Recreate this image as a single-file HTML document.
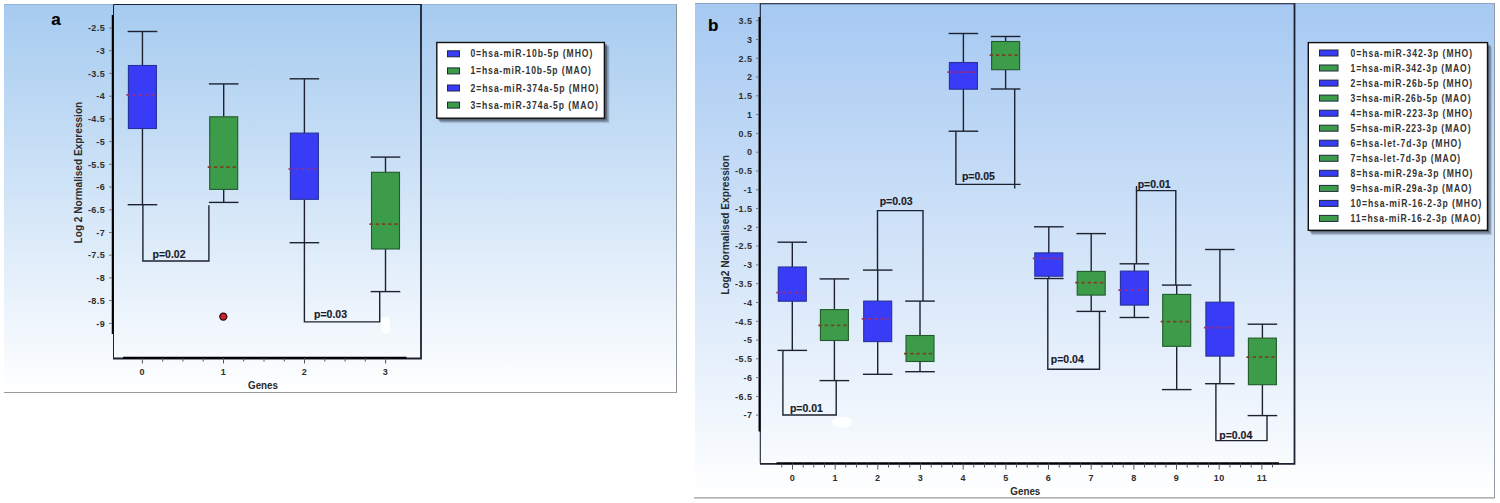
<!DOCTYPE html>
<html><head><meta charset="utf-8"><title>Box plots</title>
<style>
html,body{margin:0;padding:0;background:#fff;width:1500px;height:503px;overflow:hidden}
svg{display:block}
text{font-family:"Liberation Sans", sans-serif;fill:#1a1a1a}
.w{stroke:#1e2230;stroke-width:1.4;fill:none}
.tl{font-size:9px;font-weight:bold;fill:#2e2e2e;letter-spacing:0.45px}
.at{font-size:11px;font-weight:bold;fill:#2a2a2a}
.pl{font-size:17px;font-weight:bold;fill:#000;stroke:#000;stroke-width:0.2px}
.pv{font-size:10.5px;font-weight:bold;fill:#1a1a2a;stroke:#1a1a2a;stroke-width:0.15px}
.lg{font-size:10px;font-weight:bold;fill:#333}
</style></head><body>
<svg width="1500" height="503" viewBox="0 0 1500 503">
<defs>
<linearGradient id="gA" x1="0" y1="0" x2="0" y2="1"><stop offset="0" stop-color="#a6cbf0"/><stop offset="1" stop-color="#ffffff"/></linearGradient>
<linearGradient id="gB" x1="0" y1="0" x2="0" y2="1"><stop offset="0" stop-color="#a6c9f2"/><stop offset="1" stop-color="#ffffff"/></linearGradient>
</defs>
<rect x="4" y="4" width="673" height="389" fill="url(#gA)"/>
<line x1="4" y1="4.5" x2="677" y2="4.5" stroke="#96b2d6" stroke-width="1"/>
<line x1="4" y1="392.5" x2="677" y2="392.5" stroke="#9a9a9c" stroke-width="1"/>
<line x1="676.5" y1="4" x2="676.5" y2="393" stroke="#8e939a" stroke-width="1"/>
<path d="M113.5,358 V4.5 H421" fill="none" stroke="#1c2232" stroke-width="1"/>
<path d="M421,4 V358.5 H113" fill="none" stroke="#1c2232" stroke-width="1.8"/>
<line x1="112.7" y1="15" x2="112.7" y2="334" stroke="#000" stroke-width="1.9"/>
<line x1="123" y1="357.8" x2="406.5" y2="357.8" stroke="#000" stroke-width="2"/>
<line x1="109" y1="28.0" x2="112" y2="28.0" stroke="#777" stroke-width="1"/>
<text x="105.2" y="31.2" class="tl" text-anchor="end">-2.5</text>
<line x1="109" y1="50.7" x2="112" y2="50.7" stroke="#777" stroke-width="1"/>
<text x="105.2" y="53.9" class="tl" text-anchor="end">-3</text>
<line x1="109" y1="73.4" x2="112" y2="73.4" stroke="#777" stroke-width="1"/>
<text x="105.2" y="76.6" class="tl" text-anchor="end">-3.5</text>
<line x1="109" y1="96.2" x2="112" y2="96.2" stroke="#777" stroke-width="1"/>
<text x="105.2" y="99.4" class="tl" text-anchor="end">-4</text>
<line x1="109" y1="118.9" x2="112" y2="118.9" stroke="#777" stroke-width="1"/>
<text x="105.2" y="122.1" class="tl" text-anchor="end">-4.5</text>
<line x1="109" y1="141.6" x2="112" y2="141.6" stroke="#777" stroke-width="1"/>
<text x="105.2" y="144.8" class="tl" text-anchor="end">-5</text>
<line x1="109" y1="164.3" x2="112" y2="164.3" stroke="#777" stroke-width="1"/>
<text x="105.2" y="167.5" class="tl" text-anchor="end">-5.5</text>
<line x1="109" y1="187.0" x2="112" y2="187.0" stroke="#777" stroke-width="1"/>
<text x="105.2" y="190.2" class="tl" text-anchor="end">-6</text>
<line x1="109" y1="209.8" x2="112" y2="209.8" stroke="#777" stroke-width="1"/>
<text x="105.2" y="213.0" class="tl" text-anchor="end">-6.5</text>
<line x1="109" y1="232.5" x2="112" y2="232.5" stroke="#777" stroke-width="1"/>
<text x="105.2" y="235.7" class="tl" text-anchor="end">-7</text>
<line x1="109" y1="255.2" x2="112" y2="255.2" stroke="#777" stroke-width="1"/>
<text x="105.2" y="258.4" class="tl" text-anchor="end">-7.5</text>
<line x1="109" y1="277.9" x2="112" y2="277.9" stroke="#777" stroke-width="1"/>
<text x="105.2" y="281.1" class="tl" text-anchor="end">-8</text>
<line x1="109" y1="300.6" x2="112" y2="300.6" stroke="#777" stroke-width="1"/>
<text x="105.2" y="303.8" class="tl" text-anchor="end">-8.5</text>
<line x1="109" y1="323.4" x2="112" y2="323.4" stroke="#777" stroke-width="1"/>
<text x="105.2" y="326.6" class="tl" text-anchor="end">-9</text>
<line x1="142.4" y1="358" x2="142.4" y2="363.5" stroke="#555" stroke-width="1"/>
<line x1="162.7" y1="358" x2="162.7" y2="361.5" stroke="#555" stroke-width="1"/>
<line x1="182.9" y1="358" x2="182.9" y2="361.5" stroke="#555" stroke-width="1"/>
<line x1="203.2" y1="358" x2="203.2" y2="361.5" stroke="#555" stroke-width="1"/>
<line x1="223.5" y1="358" x2="223.5" y2="363.5" stroke="#555" stroke-width="1"/>
<line x1="243.7" y1="358" x2="243.7" y2="361.5" stroke="#555" stroke-width="1"/>
<line x1="264.0" y1="358" x2="264.0" y2="361.5" stroke="#555" stroke-width="1"/>
<line x1="284.3" y1="358" x2="284.3" y2="361.5" stroke="#555" stroke-width="1"/>
<line x1="304.5" y1="358" x2="304.5" y2="363.5" stroke="#555" stroke-width="1"/>
<line x1="324.8" y1="358" x2="324.8" y2="361.5" stroke="#555" stroke-width="1"/>
<line x1="345.1" y1="358" x2="345.1" y2="361.5" stroke="#555" stroke-width="1"/>
<line x1="365.3" y1="358" x2="365.3" y2="361.5" stroke="#555" stroke-width="1"/>
<line x1="385.6" y1="358" x2="385.6" y2="363.5" stroke="#555" stroke-width="1"/>
<text x="142.3" y="375" class="tl" text-anchor="middle">0</text>
<text x="223.5" y="375" class="tl" text-anchor="middle">1</text>
<text x="304.5" y="375" class="tl" text-anchor="middle">2</text>
<text x="385.5" y="375" class="tl" text-anchor="middle">3</text>
<text x="248" y="389.2" class="at" textLength="30" lengthAdjust="spacingAndGlyphs">Genes</text>
<text transform="translate(81.8,243.4) rotate(-90)" class="at" textLength="141.6" lengthAdjust="spacingAndGlyphs">Log 2 Normalised Expression</text>
<text x="51.3" y="25.1" class="pl">a</text>
<line x1="142.45" y1="31.5" x2="142.45" y2="65.5" class="w"/>
<line x1="142.45" y1="128.5" x2="142.45" y2="204.7" class="w"/>
<line x1="127.64999999999999" y1="31.5" x2="157.25" y2="31.5" class="w"/>
<line x1="127.64999999999999" y1="204.7" x2="157.25" y2="204.7" class="w"/>
<rect x="128.4" y="65.5" width="28.0" height="63.0" fill="#383cf6" stroke="#26309a" stroke-width="1.1"/>
<line x1="126.4" y1="94.9" x2="155.4" y2="94.9" stroke="#9a2c80" stroke-width="1.7" stroke-dasharray="3.4 2.8"/>
<line x1="223.7" y1="83.9" x2="223.7" y2="116.8" class="w"/>
<line x1="223.7" y1="189.4" x2="223.7" y2="202.4" class="w"/>
<line x1="208.89999999999998" y1="83.9" x2="238.5" y2="83.9" class="w"/>
<line x1="208.89999999999998" y1="202.4" x2="238.5" y2="202.4" class="w"/>
<rect x="209.7" y="116.8" width="28.0" height="72.6" fill="#3d9c4a" stroke="#235a2c" stroke-width="1.1"/>
<line x1="207.7" y1="167.1" x2="236.7" y2="167.1" stroke="#7a4220" stroke-width="1.7" stroke-dasharray="3.4 2.8"/>
<line x1="304.4" y1="78.8" x2="304.4" y2="133.1" class="w"/>
<line x1="304.4" y1="199.3" x2="304.4" y2="242.7" class="w"/>
<line x1="289.59999999999997" y1="78.8" x2="319.2" y2="78.8" class="w"/>
<line x1="289.59999999999997" y1="242.7" x2="319.2" y2="242.7" class="w"/>
<rect x="290.4" y="133.1" width="28.0" height="66.2" fill="#383cf6" stroke="#26309a" stroke-width="1.1"/>
<line x1="288.4" y1="169.0" x2="317.4" y2="169.0" stroke="#9a2c80" stroke-width="1.7" stroke-dasharray="3.4 2.8"/>
<line x1="385.5" y1="157.1" x2="385.5" y2="172.3" class="w"/>
<line x1="385.5" y1="249" x2="385.5" y2="291.6" class="w"/>
<line x1="370.7" y1="157.1" x2="400.3" y2="157.1" class="w"/>
<line x1="370.7" y1="291.6" x2="400.3" y2="291.6" class="w"/>
<rect x="371.5" y="172.3" width="28.0" height="76.7" fill="#3d9c4a" stroke="#235a2c" stroke-width="1.1"/>
<line x1="369.5" y1="224.1" x2="398.5" y2="224.1" stroke="#7a4220" stroke-width="1.7" stroke-dasharray="3.4 2.8"/>
<circle cx="223.3" cy="316.6" r="3.5" fill="#cc2230" stroke="#2a0508" stroke-width="1.3"/>
<polyline points="142.9,204.7 142.9,261 208.9,261 208.9,205.2" class="w" fill="none"/>
<text x="152.5" y="257.8" class="pv">p=0.02</text>
<polyline points="304.4,242.7 304.4,321.9 379.7,321.9 379.7,291.7" class="w" fill="none"/>
<text x="314" y="317.8" class="pv">p=0.03</text>
<rect x="381" y="317" width="9" height="16" rx="3.5" fill="#ffffff" opacity="0.92"/>
<rect x="438.3" y="44.3" width="168.6" height="76.2" fill="#2e3646" opacity="0.5"/>
<rect x="439.5" y="45.5" width="169" height="76.6" fill="#2e3646" opacity="0.3"/>
<rect x="440.5" y="46.5" width="169" height="76.6" fill="#2e3646" opacity="0.15"/>
<rect x="436.8" y="42.5" width="167.6" height="75.7" fill="#fff" stroke="#111" stroke-width="1.4"/>
<rect x="447.5" y="50.8" width="12" height="6" fill="#383cf6" stroke="#1d2a40" stroke-width="1"/>
<text x="546.98" y="57.4" class="lg" transform="scale(0.86,1)" textLength="141.74" lengthAdjust="spacing">0=hsa-miR-10b-5p (MHO)</text>
<rect x="447.5" y="67.9" width="12" height="6" fill="#3d9c4a" stroke="#1d2a40" stroke-width="1"/>
<text x="546.98" y="74.5" class="lg" transform="scale(0.86,1)" textLength="140.12" lengthAdjust="spacing">1=hsa-miR-10b-5p (MAO)</text>
<rect x="447.5" y="85.0" width="12" height="6" fill="#383cf6" stroke="#1d2a40" stroke-width="1"/>
<text x="546.98" y="91.6" class="lg" transform="scale(0.86,1)" textLength="148.84" lengthAdjust="spacing">2=hsa-miR-374a-5p (MHO)</text>
<rect x="447.5" y="102.1" width="12" height="6" fill="#3d9c4a" stroke="#1d2a40" stroke-width="1"/>
<text x="546.98" y="108.7" class="lg" transform="scale(0.86,1)" textLength="148.14" lengthAdjust="spacing">3=hsa-miR-374a-5p (MAO)</text>
<rect x="695" y="3" width="800" height="495" fill="url(#gB)"/>
<line x1="695" y1="3.5" x2="1495" y2="3.5" stroke="#90a6c4" stroke-width="1"/>
<line x1="694" y1="497.8" x2="1495" y2="497.8" stroke="#9a9a9c" stroke-width="1.2"/>
<line x1="1494.5" y1="3" x2="1494.5" y2="498" stroke="#8e98a6" stroke-width="1"/>
<path d="M760.3,463.5 V3.8 H1294.5" fill="none" stroke="#1c2232" stroke-width="1.1"/>
<path d="M1294.5,3.3 V463.8 H760" fill="none" stroke="#1c2232" stroke-width="1.8"/>
<line x1="759.5" y1="17" x2="759.5" y2="431.5" stroke="#000" stroke-width="1.9"/>
<line x1="776.5" y1="463.3" x2="1279" y2="463.3" stroke="#000" stroke-width="2"/>
<line x1="756" y1="20.7" x2="758.5" y2="20.7" stroke="#777" stroke-width="1"/>
<text x="752.4" y="23.9" class="tl" text-anchor="end">3.5</text>
<line x1="756" y1="39.5" x2="758.5" y2="39.5" stroke="#777" stroke-width="1"/>
<text x="752.4" y="42.7" class="tl" text-anchor="end">3</text>
<line x1="756" y1="58.3" x2="758.5" y2="58.3" stroke="#777" stroke-width="1"/>
<text x="752.4" y="61.5" class="tl" text-anchor="end">2.5</text>
<line x1="756" y1="77.1" x2="758.5" y2="77.1" stroke="#777" stroke-width="1"/>
<text x="752.4" y="80.3" class="tl" text-anchor="end">2</text>
<line x1="756" y1="95.8" x2="758.5" y2="95.8" stroke="#777" stroke-width="1"/>
<text x="752.4" y="99.0" class="tl" text-anchor="end">1.5</text>
<line x1="756" y1="114.6" x2="758.5" y2="114.6" stroke="#777" stroke-width="1"/>
<text x="752.4" y="117.8" class="tl" text-anchor="end">1</text>
<line x1="756" y1="133.4" x2="758.5" y2="133.4" stroke="#777" stroke-width="1"/>
<text x="752.4" y="136.6" class="tl" text-anchor="end">0.5</text>
<line x1="756" y1="152.2" x2="758.5" y2="152.2" stroke="#777" stroke-width="1"/>
<text x="752.4" y="155.4" class="tl" text-anchor="end">0</text>
<line x1="756" y1="171.0" x2="758.5" y2="171.0" stroke="#777" stroke-width="1"/>
<text x="752.4" y="174.2" class="tl" text-anchor="end">-0.5</text>
<line x1="756" y1="189.8" x2="758.5" y2="189.8" stroke="#777" stroke-width="1"/>
<text x="752.4" y="193.0" class="tl" text-anchor="end">-1</text>
<line x1="756" y1="208.6" x2="758.5" y2="208.6" stroke="#777" stroke-width="1"/>
<text x="752.4" y="211.8" class="tl" text-anchor="end">-1.5</text>
<line x1="756" y1="227.3" x2="758.5" y2="227.3" stroke="#777" stroke-width="1"/>
<text x="752.4" y="230.5" class="tl" text-anchor="end">-2</text>
<line x1="756" y1="246.1" x2="758.5" y2="246.1" stroke="#777" stroke-width="1"/>
<text x="752.4" y="249.3" class="tl" text-anchor="end">-2.5</text>
<line x1="756" y1="264.9" x2="758.5" y2="264.9" stroke="#777" stroke-width="1"/>
<text x="752.4" y="268.1" class="tl" text-anchor="end">-3</text>
<line x1="756" y1="283.7" x2="758.5" y2="283.7" stroke="#777" stroke-width="1"/>
<text x="752.4" y="286.9" class="tl" text-anchor="end">-3.5</text>
<line x1="756" y1="302.5" x2="758.5" y2="302.5" stroke="#777" stroke-width="1"/>
<text x="752.4" y="305.7" class="tl" text-anchor="end">-4</text>
<line x1="756" y1="321.3" x2="758.5" y2="321.3" stroke="#777" stroke-width="1"/>
<text x="752.4" y="324.5" class="tl" text-anchor="end">-4.5</text>
<line x1="756" y1="340.1" x2="758.5" y2="340.1" stroke="#777" stroke-width="1"/>
<text x="752.4" y="343.3" class="tl" text-anchor="end">-5</text>
<line x1="756" y1="358.8" x2="758.5" y2="358.8" stroke="#777" stroke-width="1"/>
<text x="752.4" y="362.0" class="tl" text-anchor="end">-5.5</text>
<line x1="756" y1="377.6" x2="758.5" y2="377.6" stroke="#777" stroke-width="1"/>
<text x="752.4" y="380.8" class="tl" text-anchor="end">-6</text>
<line x1="756" y1="396.4" x2="758.5" y2="396.4" stroke="#777" stroke-width="1"/>
<text x="752.4" y="399.6" class="tl" text-anchor="end">-6.5</text>
<line x1="756" y1="415.2" x2="758.5" y2="415.2" stroke="#777" stroke-width="1"/>
<text x="752.4" y="418.4" class="tl" text-anchor="end">-7</text>
<line x1="781.8" y1="463.5" x2="781.8" y2="467.5" stroke="#555" stroke-width="1"/>
<line x1="792.5" y1="463.5" x2="792.5" y2="469.5" stroke="#555" stroke-width="1"/>
<line x1="803.2" y1="463.5" x2="803.2" y2="467.5" stroke="#555" stroke-width="1"/>
<line x1="813.8" y1="463.5" x2="813.8" y2="467.5" stroke="#555" stroke-width="1"/>
<line x1="824.5" y1="463.5" x2="824.5" y2="467.5" stroke="#555" stroke-width="1"/>
<line x1="835.2" y1="463.5" x2="835.2" y2="469.5" stroke="#555" stroke-width="1"/>
<line x1="845.8" y1="463.5" x2="845.8" y2="467.5" stroke="#555" stroke-width="1"/>
<line x1="856.5" y1="463.5" x2="856.5" y2="467.5" stroke="#555" stroke-width="1"/>
<line x1="867.2" y1="463.5" x2="867.2" y2="467.5" stroke="#555" stroke-width="1"/>
<line x1="877.8" y1="463.5" x2="877.8" y2="469.5" stroke="#555" stroke-width="1"/>
<line x1="888.5" y1="463.5" x2="888.5" y2="467.5" stroke="#555" stroke-width="1"/>
<line x1="899.2" y1="463.5" x2="899.2" y2="467.5" stroke="#555" stroke-width="1"/>
<line x1="909.8" y1="463.5" x2="909.8" y2="467.5" stroke="#555" stroke-width="1"/>
<line x1="920.5" y1="463.5" x2="920.5" y2="469.5" stroke="#555" stroke-width="1"/>
<line x1="931.2" y1="463.5" x2="931.2" y2="467.5" stroke="#555" stroke-width="1"/>
<line x1="941.8" y1="463.5" x2="941.8" y2="467.5" stroke="#555" stroke-width="1"/>
<line x1="952.5" y1="463.5" x2="952.5" y2="467.5" stroke="#555" stroke-width="1"/>
<line x1="963.2" y1="463.5" x2="963.2" y2="469.5" stroke="#555" stroke-width="1"/>
<line x1="973.8" y1="463.5" x2="973.8" y2="467.5" stroke="#555" stroke-width="1"/>
<line x1="984.5" y1="463.5" x2="984.5" y2="467.5" stroke="#555" stroke-width="1"/>
<line x1="995.2" y1="463.5" x2="995.2" y2="467.5" stroke="#555" stroke-width="1"/>
<line x1="1005.9" y1="463.5" x2="1005.9" y2="469.5" stroke="#555" stroke-width="1"/>
<line x1="1016.5" y1="463.5" x2="1016.5" y2="467.5" stroke="#555" stroke-width="1"/>
<line x1="1027.2" y1="463.5" x2="1027.2" y2="467.5" stroke="#555" stroke-width="1"/>
<line x1="1037.9" y1="463.5" x2="1037.9" y2="467.5" stroke="#555" stroke-width="1"/>
<line x1="1048.5" y1="463.5" x2="1048.5" y2="469.5" stroke="#555" stroke-width="1"/>
<line x1="1059.2" y1="463.5" x2="1059.2" y2="467.5" stroke="#555" stroke-width="1"/>
<line x1="1069.9" y1="463.5" x2="1069.9" y2="467.5" stroke="#555" stroke-width="1"/>
<line x1="1080.5" y1="463.5" x2="1080.5" y2="467.5" stroke="#555" stroke-width="1"/>
<line x1="1091.2" y1="463.5" x2="1091.2" y2="469.5" stroke="#555" stroke-width="1"/>
<line x1="1101.9" y1="463.5" x2="1101.9" y2="467.5" stroke="#555" stroke-width="1"/>
<line x1="1112.5" y1="463.5" x2="1112.5" y2="467.5" stroke="#555" stroke-width="1"/>
<line x1="1123.2" y1="463.5" x2="1123.2" y2="467.5" stroke="#555" stroke-width="1"/>
<line x1="1133.9" y1="463.5" x2="1133.9" y2="469.5" stroke="#555" stroke-width="1"/>
<line x1="1144.5" y1="463.5" x2="1144.5" y2="467.5" stroke="#555" stroke-width="1"/>
<line x1="1155.2" y1="463.5" x2="1155.2" y2="467.5" stroke="#555" stroke-width="1"/>
<line x1="1165.9" y1="463.5" x2="1165.9" y2="467.5" stroke="#555" stroke-width="1"/>
<line x1="1176.5" y1="463.5" x2="1176.5" y2="469.5" stroke="#555" stroke-width="1"/>
<line x1="1187.2" y1="463.5" x2="1187.2" y2="467.5" stroke="#555" stroke-width="1"/>
<line x1="1197.9" y1="463.5" x2="1197.9" y2="467.5" stroke="#555" stroke-width="1"/>
<line x1="1208.5" y1="463.5" x2="1208.5" y2="467.5" stroke="#555" stroke-width="1"/>
<line x1="1219.2" y1="463.5" x2="1219.2" y2="469.5" stroke="#555" stroke-width="1"/>
<line x1="1229.9" y1="463.5" x2="1229.9" y2="467.5" stroke="#555" stroke-width="1"/>
<line x1="1240.5" y1="463.5" x2="1240.5" y2="467.5" stroke="#555" stroke-width="1"/>
<line x1="1251.2" y1="463.5" x2="1251.2" y2="467.5" stroke="#555" stroke-width="1"/>
<line x1="1261.9" y1="463.5" x2="1261.9" y2="469.5" stroke="#555" stroke-width="1"/>
<line x1="1272.5" y1="463.5" x2="1272.5" y2="467.5" stroke="#555" stroke-width="1"/>
<text x="792.5" y="481.3" class="tl" text-anchor="middle">0</text>
<text x="835.2" y="481.3" class="tl" text-anchor="middle">1</text>
<text x="877.8" y="481.3" class="tl" text-anchor="middle">2</text>
<text x="920.5" y="481.3" class="tl" text-anchor="middle">3</text>
<text x="963.2" y="481.3" class="tl" text-anchor="middle">4</text>
<text x="1005.9" y="481.3" class="tl" text-anchor="middle">5</text>
<text x="1048.5" y="481.3" class="tl" text-anchor="middle">6</text>
<text x="1091.2" y="481.3" class="tl" text-anchor="middle">7</text>
<text x="1133.9" y="481.3" class="tl" text-anchor="middle">8</text>
<text x="1176.5" y="481.3" class="tl" text-anchor="middle">9</text>
<text x="1219.2" y="481.3" class="tl" text-anchor="middle">10</text>
<text x="1261.9" y="481.3" class="tl" text-anchor="middle">11</text>
<text x="1010.3" y="494.6" class="at" textLength="30" lengthAdjust="spacingAndGlyphs">Genes</text>
<text transform="translate(729.2,294.8) rotate(-90)" class="at" textLength="139.8" lengthAdjust="spacingAndGlyphs">Log2 Normalised Expression</text>
<text x="708" y="30.6" class="pl">b</text>
<line x1="792.3" y1="242.2" x2="792.3" y2="267" class="w"/>
<line x1="792.3" y1="301.2" x2="792.3" y2="350.4" class="w"/>
<line x1="777.5" y1="242.2" x2="807.0999999999999" y2="242.2" class="w"/>
<line x1="777.5" y1="350.4" x2="807.0999999999999" y2="350.4" class="w"/>
<rect x="778.3" y="267" width="28.0" height="34.2" fill="#383cf6" stroke="#26309a" stroke-width="1.1"/>
<line x1="776.3" y1="292.6" x2="805.3" y2="292.6" stroke="#9a2c80" stroke-width="1.7" stroke-dasharray="3.4 2.8"/>
<line x1="834.4" y1="278.9" x2="834.4" y2="309.6" class="w"/>
<line x1="834.4" y1="340.5" x2="834.4" y2="380.6" class="w"/>
<line x1="819.6" y1="278.9" x2="849.1999999999999" y2="278.9" class="w"/>
<line x1="819.6" y1="380.6" x2="849.1999999999999" y2="380.6" class="w"/>
<rect x="820.4" y="309.6" width="28.0" height="30.9" fill="#3d9c4a" stroke="#235a2c" stroke-width="1.1"/>
<line x1="818.4" y1="325.4" x2="847.4" y2="325.4" stroke="#7a4220" stroke-width="1.7" stroke-dasharray="3.4 2.8"/>
<line x1="877.7" y1="270.1" x2="877.7" y2="301.1" class="w"/>
<line x1="877.7" y1="341.6" x2="877.7" y2="374.3" class="w"/>
<line x1="862.9000000000001" y1="270.1" x2="892.5" y2="270.1" class="w"/>
<line x1="862.9000000000001" y1="374.3" x2="892.5" y2="374.3" class="w"/>
<rect x="863.7" y="301.1" width="28.0" height="40.5" fill="#383cf6" stroke="#26309a" stroke-width="1.1"/>
<line x1="861.7" y1="318.9" x2="890.7" y2="318.9" stroke="#9a2c80" stroke-width="1.7" stroke-dasharray="3.4 2.8"/>
<line x1="920.0" y1="301.1" x2="920.0" y2="335.5" class="w"/>
<line x1="920.0" y1="361.5" x2="920.0" y2="371.7" class="w"/>
<line x1="905.2" y1="301.1" x2="934.8" y2="301.1" class="w"/>
<line x1="905.2" y1="371.7" x2="934.8" y2="371.7" class="w"/>
<rect x="906.0" y="335.5" width="28.0" height="26.0" fill="#3d9c4a" stroke="#235a2c" stroke-width="1.1"/>
<line x1="904.0" y1="353.6" x2="933.0" y2="353.6" stroke="#7a4220" stroke-width="1.7" stroke-dasharray="3.4 2.8"/>
<line x1="963.4" y1="33.5" x2="963.4" y2="62.5" class="w"/>
<line x1="963.4" y1="89.2" x2="963.4" y2="131.2" class="w"/>
<line x1="948.6" y1="33.5" x2="978.1999999999999" y2="33.5" class="w"/>
<line x1="948.6" y1="131.2" x2="978.1999999999999" y2="131.2" class="w"/>
<rect x="949.4" y="62.5" width="28.0" height="26.7" fill="#383cf6" stroke="#26309a" stroke-width="1.1"/>
<line x1="947.4" y1="72.1" x2="976.4" y2="72.1" stroke="#9a2c80" stroke-width="1.7" stroke-dasharray="3.4 2.8"/>
<line x1="1005.6" y1="36.5" x2="1005.6" y2="41.5" class="w"/>
<line x1="1005.6" y1="69.7" x2="1005.6" y2="89.0" class="w"/>
<line x1="990.8000000000001" y1="36.5" x2="1020.4" y2="36.5" class="w"/>
<line x1="990.8000000000001" y1="89.0" x2="1020.4" y2="89.0" class="w"/>
<rect x="991.6" y="41.5" width="28.0" height="28.2" fill="#3d9c4a" stroke="#235a2c" stroke-width="1.1"/>
<line x1="989.6" y1="55.2" x2="1018.6" y2="55.2" stroke="#7a4220" stroke-width="1.7" stroke-dasharray="3.4 2.8"/>
<line x1="1048.8" y1="226.8" x2="1048.8" y2="252.9" class="w"/>
<line x1="1048.8" y1="276.2" x2="1048.8" y2="278.5" class="w"/>
<line x1="1034.0" y1="226.8" x2="1063.6" y2="226.8" class="w"/>
<line x1="1034.0" y1="278.5" x2="1063.6" y2="278.5" class="w"/>
<rect x="1034.8" y="252.9" width="28.0" height="23.3" fill="#383cf6" stroke="#26309a" stroke-width="1.1"/>
<line x1="1032.8" y1="258.4" x2="1061.8" y2="258.4" stroke="#9a2c80" stroke-width="1.7" stroke-dasharray="3.4 2.8"/>
<line x1="1091.2" y1="233.6" x2="1091.2" y2="271.4" class="w"/>
<line x1="1091.2" y1="295.1" x2="1091.2" y2="311.4" class="w"/>
<line x1="1076.4" y1="233.6" x2="1106.0" y2="233.6" class="w"/>
<line x1="1076.4" y1="311.4" x2="1106.0" y2="311.4" class="w"/>
<rect x="1077.2" y="271.4" width="28.0" height="23.7" fill="#3d9c4a" stroke="#235a2c" stroke-width="1.1"/>
<line x1="1075.2" y1="282.7" x2="1104.2" y2="282.7" stroke="#7a4220" stroke-width="1.7" stroke-dasharray="3.4 2.8"/>
<line x1="1134.4" y1="263.8" x2="1134.4" y2="271.1" class="w"/>
<line x1="1134.4" y1="305.1" x2="1134.4" y2="317.5" class="w"/>
<line x1="1119.6000000000001" y1="263.8" x2="1149.2" y2="263.8" class="w"/>
<line x1="1119.6000000000001" y1="317.5" x2="1149.2" y2="317.5" class="w"/>
<rect x="1120.4" y="271.1" width="28.0" height="34.0" fill="#383cf6" stroke="#26309a" stroke-width="1.1"/>
<line x1="1118.4" y1="290.1" x2="1147.4" y2="290.1" stroke="#9a2c80" stroke-width="1.7" stroke-dasharray="3.4 2.8"/>
<line x1="1176.7" y1="285.1" x2="1176.7" y2="294.4" class="w"/>
<line x1="1176.7" y1="346.3" x2="1176.7" y2="389.6" class="w"/>
<line x1="1161.9" y1="285.1" x2="1191.5" y2="285.1" class="w"/>
<line x1="1161.9" y1="389.6" x2="1191.5" y2="389.6" class="w"/>
<rect x="1162.7" y="294.4" width="28.0" height="51.9" fill="#3d9c4a" stroke="#235a2c" stroke-width="1.1"/>
<line x1="1160.7" y1="321.6" x2="1189.7" y2="321.6" stroke="#7a4220" stroke-width="1.7" stroke-dasharray="3.4 2.8"/>
<line x1="1219.9" y1="249.5" x2="1219.9" y2="302.2" class="w"/>
<line x1="1219.9" y1="356.1" x2="1219.9" y2="383.7" class="w"/>
<line x1="1205.1000000000001" y1="249.5" x2="1234.7" y2="249.5" class="w"/>
<line x1="1205.1000000000001" y1="383.7" x2="1234.7" y2="383.7" class="w"/>
<rect x="1205.9" y="302.2" width="28.0" height="53.9" fill="#383cf6" stroke="#26309a" stroke-width="1.1"/>
<line x1="1203.9" y1="327.6" x2="1232.9" y2="327.6" stroke="#9a2c80" stroke-width="1.7" stroke-dasharray="3.4 2.8"/>
<line x1="1262.4" y1="324.2" x2="1262.4" y2="338.1" class="w"/>
<line x1="1262.4" y1="384.7" x2="1262.4" y2="415.6" class="w"/>
<line x1="1247.6000000000001" y1="324.2" x2="1277.2" y2="324.2" class="w"/>
<line x1="1247.6000000000001" y1="415.6" x2="1277.2" y2="415.6" class="w"/>
<rect x="1248.4" y="338.1" width="28.0" height="46.6" fill="#3d9c4a" stroke="#235a2c" stroke-width="1.1"/>
<line x1="1246.4" y1="357.1" x2="1275.4" y2="357.1" stroke="#7a4220" stroke-width="1.7" stroke-dasharray="3.4 2.8"/>
<polyline points="782.9,350.4 782.9,415 836.2,415 836.2,380.6" class="w" fill="none"/>
<text x="789.9" y="411.8" class="pv">p=0.01</text>
<polyline points="877.5,270.1 877.5,210.6 923,210.6 923,301.1" class="w" fill="none"/>
<text x="879.7" y="205" class="pv">p=0.03</text>
<polyline points="955.9,131.2 955.9,184.4 1020.6,184.4" class="w" fill="none"/>
<line x1="1014.7" y1="89" x2="1014.7" y2="188.6" class="w"/>
<text x="961.9" y="180.2" class="pv">p=0.05</text>
<polyline points="1047.8,278.5 1047.8,369.2 1099.5,369.2 1099.5,311.4" class="w" fill="none"/>
<text x="1050.8" y="363.2" class="pv">p=0.04</text>
<polyline points="1136.5,263.8 1136.5,190.6 1175.8,190.6 1175.8,285.1" class="w" fill="none"/>
<line x1="1136.5" y1="186" x2="1136.5" y2="191" class="w"/>
<text x="1137.7" y="188.2" class="pv">p=0.01</text>
<polyline points="1215.9,383.7 1215.9,440.6 1267,440.6 1267,415.6" class="w" fill="none"/>
<text x="1219.3" y="438.8" class="pv">p=0.04</text>
<ellipse cx="842" cy="422" rx="10" ry="5.5" fill="#ffffff" opacity="0.9"/>
<rect x="1309.8" y="44.4" width="179.4" height="188" fill="#2e3646" opacity="0.5"/>
<rect x="1311" y="45.6" width="180" height="188.6" fill="#2e3646" opacity="0.3"/>
<rect x="1312" y="46.6" width="180" height="188.6" fill="#2e3646" opacity="0.15"/>
<rect x="1308.3" y="42.6" width="179.2" height="187.7" fill="#fff" stroke="#111" stroke-width="1.4"/>
<rect x="1319.5" y="50.0" width="18.5" height="6" fill="#383cf6" stroke="#1d2a40" stroke-width="1"/>
<text x="1570.47" y="56.6" class="lg" transform="scale(0.86,1)" textLength="141.28" lengthAdjust="spacing">0=hsa-miR-342-3p (MHO)</text>
<rect x="1319.5" y="65.0" width="18.5" height="6" fill="#3d9c4a" stroke="#1d2a40" stroke-width="1"/>
<text x="1570.47" y="71.6" class="lg" transform="scale(0.86,1)" textLength="139.42" lengthAdjust="spacing">1=hsa-miR-342-3p (MAO)</text>
<rect x="1319.5" y="80.1" width="18.5" height="6" fill="#383cf6" stroke="#1d2a40" stroke-width="1"/>
<text x="1570.47" y="86.7" class="lg" transform="scale(0.86,1)" textLength="141.28" lengthAdjust="spacing">2=hsa-miR-26b-5p (MHO)</text>
<rect x="1319.5" y="95.1" width="18.5" height="6" fill="#3d9c4a" stroke="#1d2a40" stroke-width="1"/>
<text x="1570.47" y="101.7" class="lg" transform="scale(0.86,1)" textLength="139.42" lengthAdjust="spacing">3=hsa-miR-26b-5p (MAO)</text>
<rect x="1319.5" y="110.2" width="18.5" height="6" fill="#383cf6" stroke="#1d2a40" stroke-width="1"/>
<text x="1570.47" y="116.8" class="lg" transform="scale(0.86,1)" textLength="141.28" lengthAdjust="spacing">4=hsa-miR-223-3p (MHO)</text>
<rect x="1319.5" y="125.2" width="18.5" height="6" fill="#3d9c4a" stroke="#1d2a40" stroke-width="1"/>
<text x="1570.47" y="131.8" class="lg" transform="scale(0.86,1)" textLength="139.42" lengthAdjust="spacing">5=hsa-miR-223-3p (MAO)</text>
<rect x="1319.5" y="140.2" width="18.5" height="6" fill="#383cf6" stroke="#1d2a40" stroke-width="1"/>
<text x="1570.47" y="146.8" class="lg" transform="scale(0.86,1)" textLength="128.49" lengthAdjust="spacing">6=hsa-let-7d-3p (MHO)</text>
<rect x="1319.5" y="155.3" width="18.5" height="6" fill="#3d9c4a" stroke="#1d2a40" stroke-width="1"/>
<text x="1570.47" y="161.9" class="lg" transform="scale(0.86,1)" textLength="127.33" lengthAdjust="spacing">7=hsa-let-7d-3p (MAO)</text>
<rect x="1319.5" y="170.3" width="18.5" height="6" fill="#383cf6" stroke="#1d2a40" stroke-width="1"/>
<text x="1570.47" y="176.9" class="lg" transform="scale(0.86,1)" textLength="141.63" lengthAdjust="spacing">8=hsa-miR-29a-3p (MHO)</text>
<rect x="1319.5" y="185.4" width="18.5" height="6" fill="#3d9c4a" stroke="#1d2a40" stroke-width="1"/>
<text x="1570.47" y="192.0" class="lg" transform="scale(0.86,1)" textLength="140.58" lengthAdjust="spacing">9=hsa-miR-29a-3p (MAO)</text>
<rect x="1319.5" y="200.4" width="18.5" height="6" fill="#383cf6" stroke="#1d2a40" stroke-width="1"/>
<text x="1570.47" y="207.0" class="lg" transform="scale(0.86,1)" textLength="152.09" lengthAdjust="spacing">10=hsa-miR-16-2-3p (MHO)</text>
<rect x="1319.5" y="215.4" width="18.5" height="6" fill="#3d9c4a" stroke="#1d2a40" stroke-width="1"/>
<text x="1570.47" y="222.0" class="lg" transform="scale(0.86,1)" textLength="150.93" lengthAdjust="spacing">11=hsa-miR-16-2-3p (MAO)</text>
</svg>
</body></html>
